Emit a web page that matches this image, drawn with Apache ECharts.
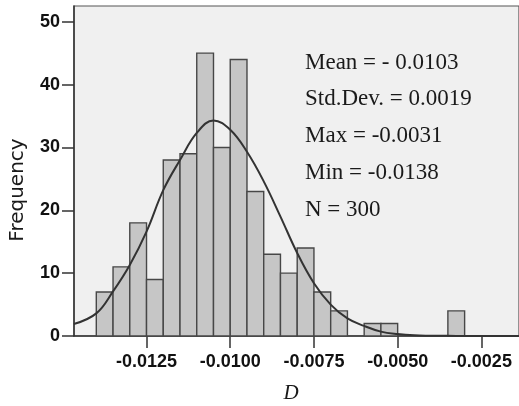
<!DOCTYPE html>
<html>
<head>
<meta charset="utf-8">
<script src="https://cdn.jsdelivr.net/npm/echarts@6/dist/echarts.min.js"></script>
<style>
html,body{margin:0;padding:0;background:#fff;}
#chart{width:519px;height:406px;}
</style>
</head>
<body>
<div id="chart"></div>
<script>
// Histogram bins (D values) and frequencies
const binStarts = [-0.0140,-0.0135,-0.0130,-0.0125,-0.0120,-0.0115,-0.0110,-0.0105,-0.0100,-0.0095,-0.0090,-0.0085,-0.0080,-0.0075,-0.0070,-0.0065,-0.0060,-0.0055,-0.0050,-0.0045,-0.0040,-0.0035];
const binEnds   = [-0.0135,-0.0130,-0.0125,-0.0120,-0.0115,-0.0110,-0.0105,-0.0100,-0.0095,-0.0090,-0.0085,-0.0080,-0.0075,-0.0070,-0.0065,-0.0060,-0.0055,-0.0050,-0.0045,-0.0040,-0.0035,-0.0030];
const counts    = [7,11,18,9,28,29,45,30,44,23,13,10,14,7,4,0,2,2,0,0,0,4];

// Fitted normal curve
const curveX = [-0.01467,-0.0140,-0.0135,-0.0130,-0.0125,-0.0120,-0.0115,-0.0110,-0.0105,-0.0100,-0.0095,-0.0090,-0.0085,-0.0080,-0.0075,-0.0070,-0.0065,-0.0060,-0.0055,-0.0050,-0.0045,-0.0040,-0.0035,-0.0030,-0.0020,-0.00138];
const curveY = [1.9,3.6,7.1,11.3,16.6,23.2,28.0,32.3,34.3,32.8,29.3,24.6,19.0,13.2,8.4,5.0,2.8,1.6,0.7,0.3,0.1,0.05,0.02,0.0,0.0,0.0];

// Tick labels
const xTicks = [-0.0125,-0.0100,-0.0075,-0.0050,-0.0025];
const yTicks = [0,10,20,30,40,50];

// Statistics box
const statLines = ['Mean = - 0.0103','Std.Dev. = 0.0019','Max = -0.0031','Min = -0.0138','N = 300'];

const chart = echarts.init(document.getElementById('chart'), null, {renderer:'canvas'});

const histData = binStarts.map((s,i)=>[s, binEnds[i], counts[i]]);
const curveData = curveX.map((x,i)=>[x, curveY[i]]);

const labelFont = {fontFamily:'Liberation Sans', fontWeight:'bold', fontSize:18, color:'#111'};

chart.setOption({
  animation:false,
  backgroundColor:'#ffffff',
  grid:{left:74, top:6, right:-1, bottom:70, show:true, backgroundColor:'#f0f0f0', borderColor:'#555', borderWidth:1.2},
  xAxis:{
    type:'value', min:-0.014666, max:-0.001376,
    axisLine:{show:true, onZero:false, lineStyle:{color:'#333', width:1.5}},
    axisTick:{show:true, customValues:xTicks, length:12, inside:false, lineStyle:{color:'#333', width:1.5}},
    axisLabel:Object.assign({customValues:xTicks, margin:17, formatter:v=>v.toFixed(4)}, labelFont),
    splitLine:{show:false}
  },
  yAxis:{
    type:'value', min:0, max:52.5,
    axisLine:{show:true, lineStyle:{color:'#333', width:1.5}},
    axisTick:{show:true, customValues:yTicks, length:12, lineStyle:{color:'#333', width:1.5}},
    axisLabel:Object.assign({customValues:yTicks, margin:14}, labelFont),
    splitLine:{show:false}
  },
  series:[
    {
      type:'custom',
      data:histData,
      encode:{x:[0,1], y:2},
      renderItem:function(params, api){
        const c = api.value(2);
        if (!c) return null;
        const p0 = api.coord([api.value(0), c]);
        const p1 = api.coord([api.value(1), 0]);
        return {
          type:'rect',
          shape:{x:p0[0], y:p0[1], width:p1[0]-p0[0], height:p1[1]-p0[1]},
          style:{fill:'#c6c6c6', stroke:'#474747', lineWidth:1.4}
        };
      },
      z:2
    },
    {
      type:'line',
      data:curveData,
      smooth:0.4,
      showSymbol:false,
      lineStyle:{color:'#333', width:2},
      z:3
    }
  ],
  graphic:[
    ...statLines.map((t,i)=>({
      type:'text', left:305, top:51 + i*36.8,
      style:{text:t, font:'23px "Liberation Serif"', fill:'#1a1a1a'}
    })),
    {type:'text', x:18, y:190, rotation:Math.PI/2,
     style:{text:'Frequency', font:'20px "DejaVu Sans"', fill:'#1a1a1a', textAlign:'center', textVerticalAlign:'middle'}},
    {type:'text', x:291, y:393,
     style:{text:'D', font:'italic 21px "Liberation Serif"', fill:'#1a1a1a', textAlign:'center', textVerticalAlign:'middle'}}
  ]
});
</script>
</body>
</html>
